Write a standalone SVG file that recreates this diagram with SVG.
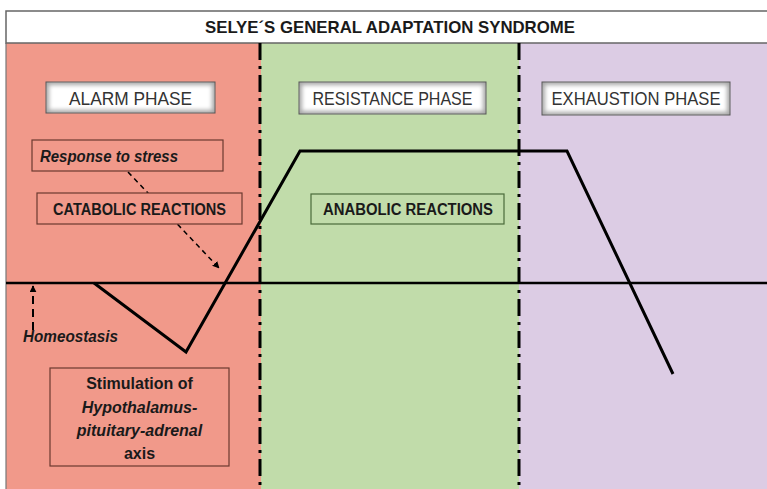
<svg xmlns="http://www.w3.org/2000/svg" width="767" height="489" viewBox="0 0 767 489">
<style>
.t{font-family:"Liberation Sans",Arial,sans-serif;fill:#1a1a1a}
.ph{font-size:18px;fill:#333}
.b{font-weight:bold}
.i{font-style:italic;font-weight:bold}
.box{fill:#F1998A;stroke:#6b3a30;stroke-width:1.2}
.hbox{fill:none;stroke:#6b3a30;stroke-width:1.2}
.gbox{fill:none;stroke:#4a6a3a;stroke-width:1.2}
.pbox{fill:#a8a8a8;stroke:#555;stroke-width:1}
.pin{fill:#fff}
.curve{fill:none;stroke:#000;stroke-width:3;stroke-linejoin:miter}
.sep{stroke:#000;stroke-width:3;stroke-dasharray:17 6 3 6}
</style>
<defs>
<filter id="blur" x="-20%" y="-50%" width="140%" height="200%"><feGaussianBlur stdDeviation="2"/></filter>
<marker id="ah" viewBox="0 0 10 10" refX="9" refY="5" markerWidth="7" markerHeight="7" orient="auto-start-reverse" markerUnits="userSpaceOnUse"><path d="M0,0 L10,5 L0,10 z" fill="#000"/></marker>
</defs>
<rect width="767" height="489" fill="#fff"/>
<g id="panels">
<rect x="6" y="43" width="255" height="446" fill="#F1998A"/>
<rect x="261" y="43" width="258" height="446" fill="#C1DCAA"/>
<rect x="519" y="43" width="248" height="446" fill="#DCCCE4"/>
<line x1="6" y1="43" x2="6" y2="489" stroke="#777" stroke-width="1.2"/>
</g>
<g id="title">
<rect x="6" y="11" width="765" height="32" fill="#fff" stroke="#666" stroke-width="1.5"/>
<text class="t b" x="390" y="33" font-size="17" text-anchor="middle" textLength="370" lengthAdjust="spacingAndGlyphs">SELYE´S GENERAL ADAPTATION SYNDROME</text>
</g>
<g id="connectors">
<line class="sep" x1="260" y1="43" x2="260" y2="489"/>
<line class="sep" x1="519" y1="43" x2="519" y2="489"/>
<line x1="6" y1="283" x2="767" y2="283" stroke="#000" stroke-width="2.5"/>
<polyline class="curve" points="94,283 186,352 300,151 567,151 673,374"/>
<line x1="128" y1="172" x2="219" y2="268" stroke="#000" stroke-width="1.5" stroke-dasharray="5 4" marker-end="url(#ah)"/>
<line x1="33" y1="330" x2="33" y2="286" stroke="#000" stroke-width="2" stroke-dasharray="8 5" marker-end="url(#ah)"/>
</g>
<g id="alarm-phase">
<rect class="pbox" x="46" y="82" width="169" height="31"/>
<rect class="pin" x="49" y="85" width="163" height="25" filter="url(#blur)"/>
<text class="t ph" x="130.5" y="105" text-anchor="middle" textLength="123" lengthAdjust="spacingAndGlyphs">ALARM PHASE</text>
</g>
<g id="resistance-phase">
<rect class="pbox" x="299" y="82" width="187" height="32"/>
<rect class="pin" x="302" y="85" width="181" height="26" filter="url(#blur)"/>
<text class="t ph" x="392.5" y="105" text-anchor="middle" textLength="160" lengthAdjust="spacingAndGlyphs">RESISTANCE PHASE</text>
</g>
<g id="exhaustion-phase">
<rect class="pbox" x="542" y="82" width="188" height="33"/>
<rect class="pin" x="545" y="85" width="182" height="27" filter="url(#blur)"/>
<text class="t ph" x="636" y="105" text-anchor="middle" textLength="169" lengthAdjust="spacingAndGlyphs">EXHAUSTION PHASE</text>
</g>
<g id="response-to-stress">
<rect class="box" x="32" y="140" width="191" height="31"/>
<text class="t i" x="40" y="162" font-size="16" textLength="138" lengthAdjust="spacingAndGlyphs">Response to stress</text>
</g>
<g id="catabolic-reactions">
<rect class="box" x="37" y="193" width="205" height="31"/>
<text class="t b" x="139.5" y="215" font-size="16" text-anchor="middle" textLength="173" lengthAdjust="spacingAndGlyphs">CATABOLIC REACTIONS</text>
</g>
<g id="anabolic-reactions">
<rect class="gbox" x="311" y="194" width="193" height="30"/>
<text class="t b" x="408" y="215" font-size="16" text-anchor="middle" textLength="170" lengthAdjust="spacingAndGlyphs">ANABOLIC REACTIONS</text>
</g>
<g id="homeostasis">
<text class="t i" x="23" y="342" font-size="16" textLength="95" lengthAdjust="spacingAndGlyphs">Homeostasis</text>
</g>
<g id="hpa-axis">
<rect class="hbox" x="50" y="368" width="179" height="98"/>
<text class="t b" x="139.5" y="389" font-size="16" text-anchor="middle">Stimulation of</text>
<text class="t i" x="139.5" y="413" font-size="16" text-anchor="middle">Hypothalamus-</text>
<text class="t i" x="139.5" y="436" font-size="16" text-anchor="middle">pituitary-adrenal</text>
<text class="t b" x="139.5" y="459" font-size="16" text-anchor="middle">axis</text>
</g>
</svg>
